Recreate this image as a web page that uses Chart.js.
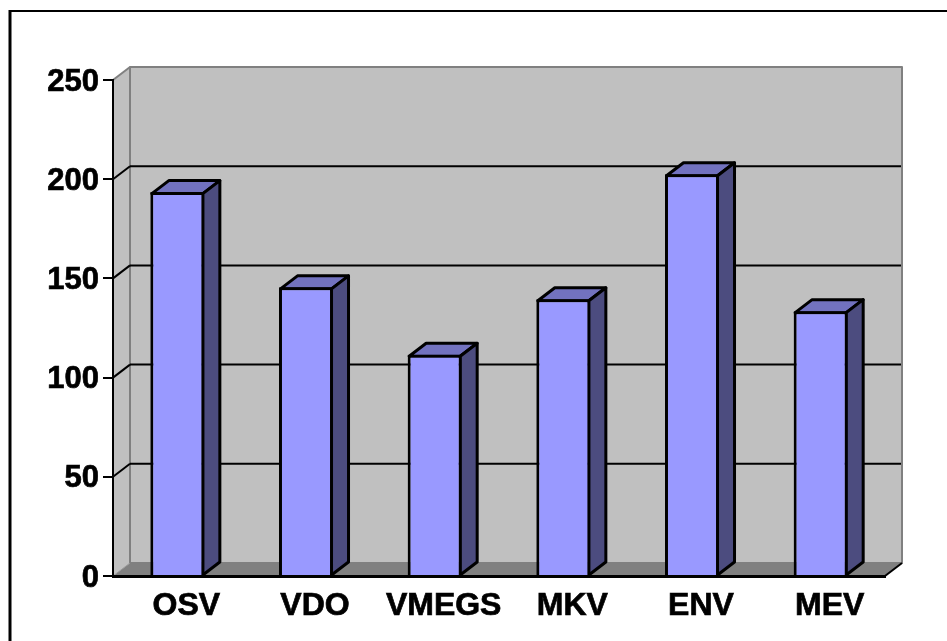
<!DOCTYPE html>
<html lang="en">
<head>
    <meta charset="UTF-8">
    <title>Bar chart</title>
    <script src="https://cdn.jsdelivr.net/npm/chart.js@4"></script>
    <style>
        html, body { margin: 0; background: #fff; overflow: hidden; }
        canvas { display: block; }
    </style>
</head>
<body>
    <canvas id="myChart" width="947" height="641"></canvas>
<script>
    const categories = ["OSV", "VDO", "VMEGS", "MKV", "ENV", "MEV"];
    const values = [193.5, 145.5, 111.5, 139.5, 202.5, 133.5];
    const tickValues = [0, 50, 100, 150, 200, 250];

    // depth of the fake 3D effect
    const DX = 17, DY = -13;
    const BAR_BORDER = 3;

    function poly(ctx, pts, fill, stroke, width) {
        ctx.beginPath();
        pts.forEach((p, i) => i ? ctx.lineTo(p[0], p[1]) : ctx.moveTo(p[0], p[1]));
        ctx.closePath();
        if (fill) { ctx.fillStyle = fill; ctx.fill(); }
        if (stroke) { ctx.strokeStyle = stroke; ctx.lineWidth = width; ctx.lineJoin = "round"; ctx.stroke(); }
    }

    function line(ctx, x1, y1, x2, y2, color, width) {
        ctx.beginPath();
        ctx.moveTo(x1, y1);
        ctx.lineTo(x2, y2);
        ctx.strokeStyle = color;
        ctx.lineWidth = width;
        ctx.stroke();
    }

    const box3d = {
        id: "box3d",
        // walls and floor go under the axes
        beforeDraw(chart) {
            const ctx = chart.ctx, a = chart.chartArea, y = chart.scales.y;
            ctx.save();
            // outer frame, runs off the right and bottom of the picture
            line(ctx, 10, 10, 10, 641, "#000", 3);
            line(ctx, 9, 11, 947, 11, "#000", 2);

            const top = a.top, bot = a.bottom;
            // side wall
            poly(ctx, [[a.left, top], [a.left + DX, top + DY], [a.left + DX, bot + DY], [a.left, bot]], "#C0C0C0");
            // back wall
            poly(ctx, [[a.left + DX, top + DY], [a.right + DX, top + DY], [a.right + DX, bot + DY], [a.left + DX, bot + DY]], "#C0C0C0", "#808080", 2);
            line(ctx, a.left, top, a.left + DX, top + DY, "#808080", 2);
            // floor
            poly(ctx, [[a.left, bot], [a.left + DX, bot + DY], [a.right + DX, bot + DY], [a.right, bot]], "#808080");
            line(ctx, a.right, bot, a.right + DX, bot + DY, "#000", 2);
            line(ctx, a.left, bot, a.left + DX, bot + DY, "#999", 1);
            // grid lines on the walls
            tickValues.forEach(v => {
                if (v === 0 || v === 250) return;
                const py = y.getPixelForValue(v);
                line(ctx, a.left, py, a.left + DX, py + DY, "#000", 2);
                line(ctx, a.left + DX, py + DY, a.right + DX - 1, py + DY, "#000", 2);
            });
            ctx.restore();
        },
        // top and side faces of the bars, the library draws the front
        beforeDatasetsDraw(chart) {
            const ctx = chart.ctx;
            ctx.save();
            chart.getDatasetMeta(0).data.forEach(bar => {
                const p = bar.getProps(["x", "y", "base", "width"], true);
                // the library keeps its border inside the bar, follow the middle of it
                const inset = BAR_BORDER / 2;
                const l = p.x - p.width / 2 + inset, r = p.x + p.width / 2 - inset, t = p.y + inset;
                poly(ctx, [[l, t], [l + DX, t + DY], [r + DX, t + DY], [r, t]], "#7272BF", "#000", BAR_BORDER);
                poly(ctx, [[r, t], [r + DX, t + DY], [r + DX, p.base + DY], [r, p.base]], "#4C4C7F", "#000", BAR_BORDER);
            });
            ctx.restore();
        }
    };

    const family = "'Liberation Sans', Arial, sans-serif";

    new Chart("myChart", {
        type: "bar",
        data: {
            labels: categories,
            datasets: [{
                data: values,
                backgroundColor: "#9999FF",
                borderColor: "#000",
                borderWidth: BAR_BORDER,
                barPercentage: 0.42,
                categoryPercentage: 1
            }]
        },
        options: {
            responsive: false,
            animation: false,
            devicePixelRatio: 1,
            layout: { padding: { top: 80, right: 62, left: 0, bottom: 0 } },
            plugins: { legend: { display: false }, tooltip: { enabled: false }, title: { display: false } },
            scales: {
                x: {
                    grid: { display: false },
                    border: { color: "#000", width: 3 },
                    ticks: { font: { family: family, size: 32, weight: "bold" }, color: "#000", textStrokeColor: "#000", textStrokeWidth: 0.7, padding: 3, labelOffset: 9, maxRotation: 0, autoSkip: false },
                    afterFit(scale) { scale.height = 65; }
                },
                y: {
                    min: 0,
                    max: 250,
                    grid: { drawOnChartArea: false, drawTicks: true, tickLength: 10, color: "#000", lineWidth: 2 },
                    border: { color: "#000", width: 2 },
                    ticks: { font: { family: family, size: 31, weight: "bold" }, color: "#000", textStrokeColor: "#000", textStrokeWidth: 0.7, padding: 4, labelOffset: 2, stepSize: 50, callback: v => v },
                    afterFit(scale) { scale.width = 113; }
                }
            }
        },
        plugins: [box3d]
    });
</script>
</body>
</html>
